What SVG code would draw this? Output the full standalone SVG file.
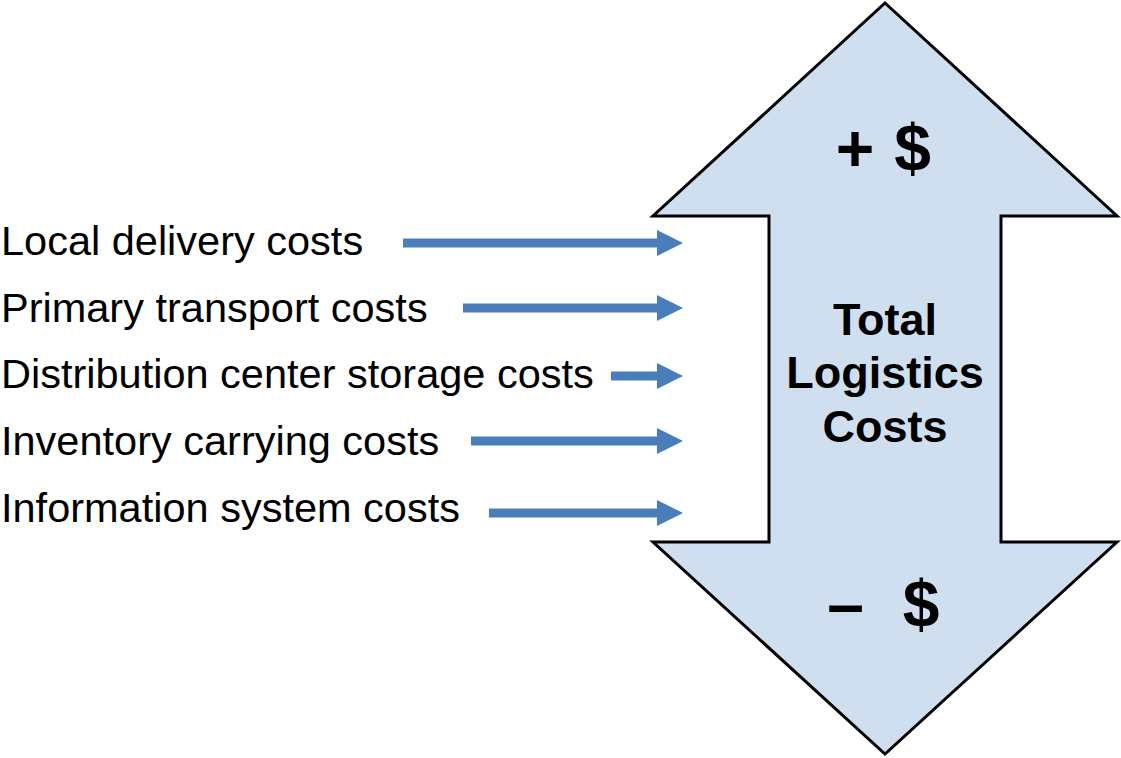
<svg xmlns="http://www.w3.org/2000/svg" width="1121" height="758" viewBox="0 0 1121 758">
<style>
.lbl{font-family:"Liberation Sans",Arial,sans-serif;font-size:41.5px;fill:#000}
.big{font-family:"Liberation Sans",Arial,sans-serif;font-weight:bold;fill:#000;text-anchor:middle}
.conn{stroke:#4a7ebb;stroke-width:9;fill:none}
.head{fill:#4a7ebb}
</style>
<rect width="1121" height="758" fill="#fff"/>
<g id="total-costs">
<polygon points="885,3 1117,216 1001,216 1001,542 1117,542 885,754 653,542 769,542 769,216 653,216" fill="#d0dff0" stroke="#000" stroke-width="3" stroke-linejoin="miter"/>
<text class="big" font-size="66"><tspan x="855" y="171">+</tspan><tspan x="912.5" y="171">$</tspan></text>
<text class="big" font-size="66"><tspan x="845.5" y="627">–</tspan><tspan x="921" y="627">$</tspan></text>
<text class="big" x="885" y="335" font-size="45">Total</text>
<text class="big" x="885" y="388" font-size="45">Logistics</text>
<text class="big" x="885" y="442" font-size="45">Costs</text>
</g>
<g id="labels">
<text id="local" class="lbl" x="1" y="255">Local delivery costs</text>
<text id="primary" class="lbl" x="1" y="322">Primary transport costs</text>
<text id="dc" class="lbl" x="1" y="388">Distribution center storage costs</text>
<text id="inventory" class="lbl" x="1" y="455">Inventory carrying costs</text>
<text id="info" class="lbl" x="1" y="522">Information system costs</text>
</g>
<g id="connectors">
<line class="conn" x1="403" y1="243" x2="658" y2="243"/><polygon class="head" points="657,230 683,243 657,256"/>
<line class="conn" x1="463" y1="308" x2="658" y2="308"/><polygon class="head" points="657,295 683,308 657,321"/>
<line class="conn" x1="611" y1="376" x2="658" y2="376"/><polygon class="head" points="657,363 683,376 657,389"/>
<line class="conn" x1="471" y1="441" x2="658" y2="441"/><polygon class="head" points="657,428 683,441 657,454"/>
<line class="conn" x1="489" y1="513" x2="658" y2="513"/><polygon class="head" points="657,500 683,513 657,526"/>
</g>
</svg>
